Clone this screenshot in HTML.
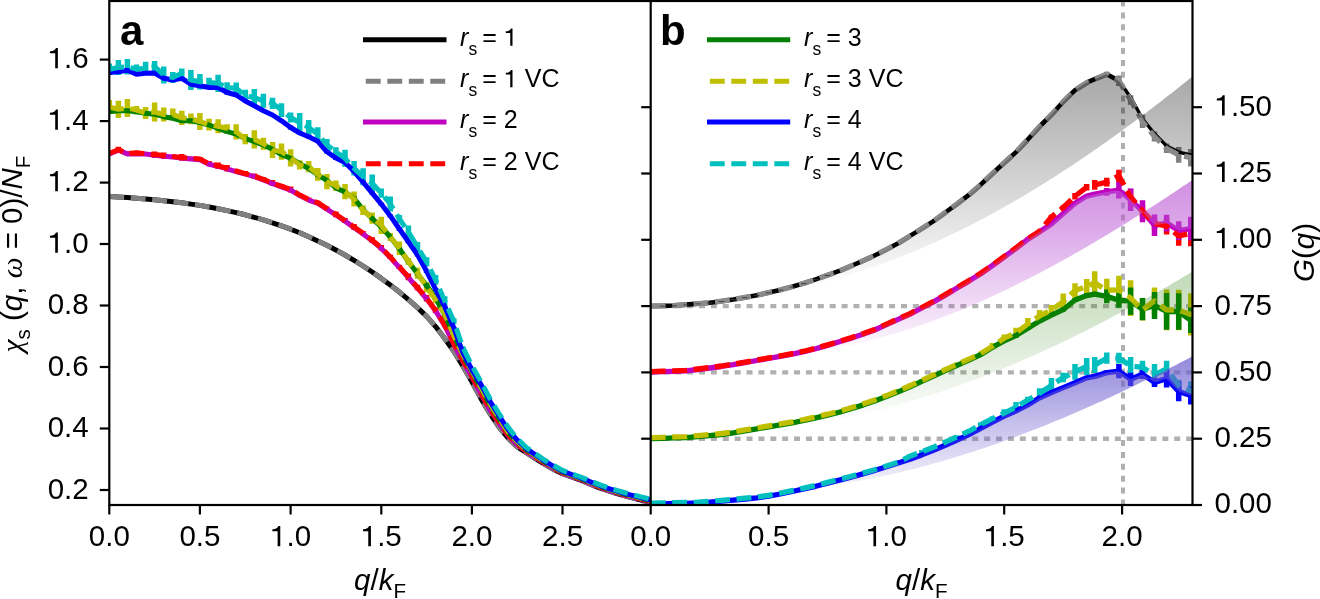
<!DOCTYPE html>
<html><head><meta charset="utf-8"><style>html,body{margin:0;padding:0;background:#fff;overflow:hidden} svg{display:block;will-change:transform}</style></head>
<body>
<svg width="1320" height="599" viewBox="0 0 1320 599" font-family="Liberation Sans, sans-serif">
<defs>
<clipPath id="ca"><rect x="109.3" y="1.0" width="541.4000000000001" height="504.0"/></clipPath>
<clipPath id="cb"><rect x="650.7" y="1.0" width="541.8" height="504.0"/></clipPath>
<linearGradient id="gk" gradientUnits="userSpaceOnUse" x1="0" y1="73" x2="0" y2="290"><stop offset="0.000" stop-color="rgb(0,0,0)" stop-opacity="0.345"/><stop offset="1.000" stop-color="rgb(0,0,0)" stop-opacity="0.0"/></linearGradient>
<linearGradient id="gm" gradientUnits="userSpaceOnUse" x1="0" y1="180" x2="0" y2="352"><stop offset="0.000" stop-color="rgb(186,85,211)" stop-opacity="0.66"/><stop offset="0.291" stop-color="rgb(186,85,211)" stop-opacity="0.5"/><stop offset="0.581" stop-color="rgb(186,85,211)" stop-opacity="0.3"/><stop offset="0.872" stop-color="rgb(186,85,211)" stop-opacity="0.12"/><stop offset="1.000" stop-color="rgb(186,85,211)" stop-opacity="0.02"/></linearGradient>
<linearGradient id="gg" gradientUnits="userSpaceOnUse" x1="0" y1="272" x2="0" y2="415"><stop offset="0.000" stop-color="rgb(50,130,20)" stop-opacity="0.3"/><stop offset="0.336" stop-color="rgb(50,130,20)" stop-opacity="0.21"/><stop offset="0.685" stop-color="rgb(50,130,20)" stop-opacity="0.11"/><stop offset="1.000" stop-color="rgb(50,130,20)" stop-opacity="0.02"/></linearGradient>
<linearGradient id="gb" gradientUnits="userSpaceOnUse" x1="0" y1="356" x2="0" y2="495"><stop offset="0.000" stop-color="rgb(106,90,205)" stop-opacity="0.72"/><stop offset="0.317" stop-color="rgb(106,90,205)" stop-opacity="0.5"/><stop offset="0.604" stop-color="rgb(106,90,205)" stop-opacity="0.3"/><stop offset="0.892" stop-color="rgb(106,90,205)" stop-opacity="0.1"/><stop offset="1.000" stop-color="rgb(106,90,205)" stop-opacity="0.02"/></linearGradient>
</defs>
<rect width="1320" height="599" fill="#fff"/>
<g clip-path="url(#ca)" fill="none" stroke-linejoin="round">
<path d="M109.3,151.4V155.2M118.4,146.7V152.6M127.4,151.2V155.4M136.5,150.5V155.7M145.6,151.9V155.2M154.6,151.4V157.8M163.7,152.4V158.8M172.8,154.8V158.2M181.8,154.1V160.7M190.9,156.4V160.1M199.9,157.0V161.2M209.0,160.9V166.2M218.1,162.6V169.1M227.1,165.1V171.4M236.2,169.3V172.6M245.3,171.0V176.1M254.3,173.5V178.6M263.4,176.9V181.8M272.5,180.0V185.9M281.5,184.3V188.1M290.6,186.6V192.5M299.7,193.2V196.6M308.7,197.6V201.3M317.8,200.8V204.5M326.9,206.4V210.8M335.9,211.6V217.2M345.0,218.1V223.0M354.1,223.9V230.0M363.1,231.1V235.4M372.2,237.3V243.1M381.3,244.9V250.6M390.3,254.7V259.1M399.4,264.7V269.1M408.4,273.6V280.3M417.5,284.7V290.2M426.6,294.9V301.4M435.6,307.3V313.2M444.7,322.7V327.3M453.8,342.4V344.7M462.8,359.6V360.8" stroke="#ff0000" stroke-width="5.5" fill="none"/>
<path d="M109.3,153.0V154.8M118.4,149.5V151.1M127.4,152.7V155.0M136.5,152.3V155.1M145.6,153.0V155.2M154.6,154.0V156.4M163.7,155.4V157.0M172.8,155.9V158.3M181.8,156.4V159.6M190.9,157.4V160.4M199.9,158.3V161.1M209.0,163.3V165.0M218.1,164.9V168.0M227.1,167.3V170.3M236.2,170.6V172.5M245.3,172.9V175.5M254.3,175.9V177.5M263.4,179.1V180.8M272.5,182.5V184.6M281.5,185.9V187.7M290.6,188.7V191.6M299.7,194.0V197.0M308.7,199.0V201.1M317.8,202.2V204.3M326.9,208.3V210.1M335.9,214.2V215.9M345.0,219.8V222.5M354.1,226.3V228.9M363.1,233.0V234.7M372.2,239.6V242.0M381.3,247.2V249.5M390.3,256.0V258.9M399.4,266.1V268.9M408.4,276.3V278.8M417.5,286.8V289.3M426.6,297.2V300.3M435.6,309.3V312.5M444.7,324.8V326.4" stroke="#bf00bf" stroke-width="5.5" fill="none"/>
<path d="M109.3,100.0V114.1M118.4,100.8V117.9M127.4,98.9V117.0M136.5,106.0V114.4M145.6,107.1V118.9M154.6,102.6V121.5M163.7,107.6V121.5M172.8,108.4V120.2M181.8,110.7V124.9M190.9,113.6V124.3M199.9,113.0V130.0M209.0,118.7V130.6M218.1,119.2V133.3M227.1,124.2V132.4M236.2,124.2V139.6M245.3,133.9V144.2M254.3,130.2V148.4M263.4,137.7V149.7M272.5,142.0V158.1M281.5,143.5V159.7M290.6,149.2V166.4M299.7,160.3V169.5M308.7,161.0V172.2M317.8,167.9V180.8M326.9,174.1V189.2M335.9,180.5V191.1M345.0,184.0V199.3M354.1,191.6V206.4M363.1,205.4V215.1M372.2,212.5V223.7M381.3,216.8V233.9M390.3,232.9V240.9M399.4,241.4V254.9M408.4,258.0V264.7M417.5,267.5V278.7M426.6,281.9V292.2M435.6,296.1V303.3M444.7,309.0V318.6M453.8,332.8V338.5M462.8,353.5V355.8" stroke="#bfbf00" stroke-width="5.5" fill="none"/>
<path d="M109.3,109.9V113.5M118.4,109.6V112.0M127.4,109.0V112.6M136.5,109.7V113.7M145.6,111.3V115.3M154.6,112.8V115.7M163.7,115.1V118.3M172.8,116.5V120.1M181.8,119.2V122.4M190.9,119.1V122.5M199.9,121.5V123.5M209.0,123.7V126.3M218.1,127.3V129.4M227.1,129.8V133.6M236.2,132.8V135.6M245.3,136.8V140.2M254.3,140.5V143.0M263.4,143.7V146.3M272.5,148.2V150.2M281.5,153.3V156.0M290.6,156.3V160.2M299.7,162.5V164.9M308.7,167.2V169.8M317.8,172.9V176.7M326.9,179.4V181.4M335.9,186.9V189.0M345.0,190.4V193.6M354.1,196.4V200.2M363.1,208.8V210.8M372.2,216.7V220.2M381.3,225.0V228.6M390.3,236.0V238.1M399.4,247.0V250.3M408.4,260.0V263.0M417.5,272.2V275.2M426.6,283.6V287.5M435.6,297.5V299.5M444.7,313.7V315.6M453.8,334.5V336.2" stroke="#008000" stroke-width="5.5" fill="none"/>
<path d="M109.3,63.4V75.0M118.4,59.9V75.1M127.4,58.9V74.5M136.5,64.5V73.9M145.6,61.7V74.9M154.6,60.9V72.5M163.7,66.5V83.5M172.8,72.1V82.9M181.8,68.5V78.1M190.9,70.0V89.9M199.9,74.0V89.4M209.0,77.7V87.3M218.1,74.7V91.9M227.1,82.2V92.8M236.2,82.5V94.1M245.3,89.7V101.8M254.3,89.1V105.9M263.4,93.8V107.8M272.5,97.7V108.9M281.5,103.2V116.9M290.6,112.5V122.5M299.7,112.9V132.0M308.7,120.0V135.0M317.8,127.2V141.2M326.9,138.9V151.0M335.9,147.2V156.2M345.0,149.8V166.8M354.1,161.1V175.6M363.1,168.2V185.3M372.2,174.6V191.9M381.3,188.6V197.8M390.3,196.6V211.4M399.4,215.0V222.9M408.4,225.4V238.5M417.5,242.0V252.0M426.6,257.3V266.6M435.6,274.9V284.8M444.7,296.2V305.3M453.8,318.2V323.9M462.8,346.3V348.4" stroke="#00bfbf" stroke-width="5.5" fill="none"/>
<path d="M109.3,70.6V74.4M118.4,70.5V72.9M127.4,69.3V71.3M136.5,72.8V75.6M145.6,72.0V74.6M154.6,71.5V74.5M163.7,77.0V79.6M172.8,78.7V81.3M181.8,77.2V79.4M190.9,83.0V85.4M199.9,83.9V87.7M209.0,86.2V88.8M218.1,85.8V89.3M227.1,90.6V94.4M236.2,93.2V96.8M245.3,99.8V102.2M254.3,104.7V107.0M263.4,109.8V111.8M272.5,114.0V116.0M281.5,119.6V122.0M290.6,125.5V129.5M299.7,131.6V134.3M308.7,135.0V138.6M317.8,139.8V142.8M326.9,150.2V153.3M335.9,156.0V160.0M345.0,161.4V163.6M354.1,170.1V173.0M363.1,181.1V183.3M372.2,191.5V194.6M381.3,202.8V205.4M390.3,214.4V217.4M399.4,227.3V230.7M408.4,240.5V243.2M417.5,253.2V256.5M426.6,269.6V272.9M435.6,287.9V290.7M444.7,305.4V307.5M453.8,327.1V328.5" stroke="#0000ff" stroke-width="5.5" fill="none"/>
<polyline points="109.3,196.5 118.4,197.0 127.4,197.6 136.5,198.2 145.6,199.0 154.6,199.8 163.7,200.7 172.8,201.7 181.8,202.8 190.9,204.1 199.9,205.4 209.0,207.0 218.1,208.7 227.1,210.6 236.2,212.6 245.3,214.8 254.3,217.3 263.4,219.9 272.5,222.8 281.5,225.9 290.6,229.2 299.7,232.8 308.7,236.7 317.8,240.9 326.9,245.3 335.9,250.0 345.0,255.0 354.1,260.4 363.1,266.0 372.2,272.0 381.3,278.4 390.3,285.1 399.4,292.1 408.4,299.6 417.5,307.6 426.6,316.4 435.6,326.6 444.7,338.5 453.8,351.3 462.8,366.0 471.9,381.7 481.0,398.6 490.0,413.7 499.1,427.2 508.2,438.2 517.2,446.9 526.3,452.7 535.4,458.7 544.4,464.1 553.5,469.3 562.5,473.7 571.6,476.9 580.7,480.2 589.7,483.9 598.8,487.6 607.9,490.7 616.9,493.6 626.0,496.2 635.1,498.5 644.1,500.8 650.7,502.4" stroke="#000000" stroke-width="5.0"/>
<polyline points="109.3,196.5 118.4,197.0 127.4,197.6 136.5,198.2 145.6,199.0 154.6,199.8 163.7,200.7 172.8,201.7 181.8,202.8 190.9,204.1 199.9,205.4 209.0,207.0 218.1,208.7 227.1,210.6 236.2,212.6 245.3,214.8 254.3,217.3 263.4,219.9 272.5,222.8 281.5,225.9 290.6,229.2 299.7,232.8 308.7,236.7 317.8,240.9 326.9,245.3 335.9,250.0 345.0,255.0 354.1,260.4 363.1,266.0 372.2,272.0 381.3,278.4 390.3,285.1 399.4,292.1 408.4,299.6 417.5,307.6 426.6,316.4 435.6,326.6 444.7,338.5 453.8,351.3 462.8,366.0 471.9,381.7 481.0,398.6 490.0,413.7 499.1,427.2 508.2,438.2 517.2,446.9 526.3,452.7 535.4,458.7 544.4,464.1 553.5,469.3 562.5,473.7 571.6,476.9 580.7,480.2 589.7,483.9 598.8,487.6 607.9,490.7 616.9,493.6 626.0,496.2 635.1,498.5 644.1,500.8 650.7,502.4" stroke="#808080" stroke-width="5.0" stroke-dasharray="14.9,6.6"/>
<polyline points="109.3,153.9 118.4,150.3 127.4,153.9 136.5,153.7 145.6,154.1 154.6,155.2 163.7,156.2 172.8,157.1 181.8,158.0 190.9,158.9 199.9,159.7 209.0,164.2 218.1,166.4 227.1,168.8 236.2,171.6 245.3,174.2 254.3,176.7 263.4,180.0 272.5,183.6 281.5,186.8 290.6,190.2 299.7,195.5 308.7,200.1 317.8,203.3 326.9,209.2 335.9,215.0 345.0,221.1 354.1,227.6 363.1,233.9 372.2,240.8 381.3,248.4 390.3,257.5 399.4,267.5 408.4,277.5 417.5,288.1 426.6,298.8 435.6,310.9 444.7,325.6 453.8,344.2 462.8,361.1 471.9,377.1 481.0,394.1 490.0,410.0 499.1,423.2 508.2,435.7 517.2,444.7 526.3,451.4 535.4,457.5 544.4,463.2 553.5,468.4 562.5,473.1 571.6,476.3 580.7,479.6 589.7,483.3 598.8,487.0 607.9,490.1 616.9,493.0 626.0,495.6 635.1,497.9 644.1,500.2 650.7,501.8" stroke="#bf00bf" stroke-width="5.0"/>
<polyline points="109.3,153.3 118.4,149.7 127.4,153.3 136.5,153.1 145.6,153.5 154.6,154.6 163.7,155.6 172.8,156.5 181.8,157.4 190.9,158.3 199.9,159.1 209.0,163.6 218.1,165.8 227.1,168.2 236.2,171.0 245.3,173.6 254.3,176.1 263.4,179.4 272.5,183.0 281.5,186.2 290.6,189.6 299.7,194.9 308.7,199.5 317.8,202.7 326.9,208.6 335.9,214.4 345.0,220.5 354.1,227.0 363.1,233.3 372.2,240.2 381.3,247.8 390.3,256.9 399.4,266.9 408.4,276.9 417.5,287.5 426.6,298.2 435.6,310.3 444.7,325.0 453.8,343.5 462.8,360.2 471.9,376.2 481.0,393.1 490.0,409.2 499.1,422.4 508.2,435.1 517.2,444.1 526.3,451.0 535.4,457.1 544.4,462.8 553.5,468.0 562.5,472.7 571.6,475.9 580.7,479.2 589.7,482.9 598.8,486.6 607.9,489.7 616.9,492.6 626.0,495.2 635.1,497.5 644.1,499.8 650.7,501.4" stroke="#ff0000" stroke-width="5.0" stroke-dasharray="14.9,6.6"/>
<polyline points="109.3,111.7 118.4,110.8 127.4,110.8 136.5,111.7 145.6,113.3 154.6,114.2 163.7,116.7 172.8,118.3 181.8,120.8 190.9,120.8 199.9,122.5 209.0,125.0 218.1,128.3 227.1,131.7 236.2,134.2 245.3,138.5 254.3,141.7 263.4,145.0 272.5,149.2 281.5,154.6 290.6,158.2 299.7,163.7 308.7,168.5 317.8,174.8 326.9,180.4 335.9,187.9 345.0,192.0 354.1,198.3 363.1,209.8 372.2,218.5 381.3,226.8 390.3,237.0 399.4,248.7 408.4,261.5 417.5,273.7 426.6,285.5 435.6,298.5 444.7,314.6 453.8,335.3 462.8,355.1 471.9,371.8 481.0,388.4 490.0,404.8 499.1,418.8 508.2,432.6 517.2,442.0 526.3,449.7 535.4,455.9 544.4,461.8 553.5,467.2 562.5,472.0 571.6,475.3 580.7,478.6 589.7,482.3 598.8,486.0 607.9,489.1 616.9,492.0 626.0,494.6 635.1,496.9 644.1,499.2 650.7,500.8" stroke="#008000" stroke-width="5.0"/>
<polyline points="109.3,107.0 118.4,109.3 127.4,107.9 136.5,110.2 145.6,113.0 154.6,112.1 163.7,114.5 172.8,114.3 181.8,117.8 190.9,118.9 199.9,121.5 209.0,124.7 218.1,126.2 227.1,128.3 236.2,131.9 245.3,139.0 254.3,139.3 263.4,143.7 272.5,150.1 281.5,151.6 290.6,157.8 299.7,164.9 308.7,166.6 317.8,174.4 326.9,181.6 335.9,185.8 345.0,191.7 354.1,199.0 363.1,210.3 372.2,218.1 381.3,225.4 390.3,236.9 399.4,248.1 408.4,261.4 417.5,273.1 426.6,287.0 435.6,299.7 444.7,313.8 453.8,335.7 462.8,354.7 471.9,370.9 481.0,387.5 490.0,403.9 499.1,418.1 508.2,432.1 517.2,441.5 526.3,449.4 535.4,455.6 544.4,461.5 553.5,466.9 562.5,471.7 571.6,475.0 580.7,478.3 589.7,482.0 598.8,485.7 607.9,488.8 616.9,491.7 626.0,494.3 635.1,496.6 644.1,498.9 650.7,500.5" stroke="#bfbf00" stroke-width="5.0" stroke-dasharray="14.9,6.6"/>
<polyline points="109.3,72.5 118.4,71.7 127.4,70.3 136.5,74.2 145.6,73.3 154.6,73.0 163.7,78.3 172.8,80.0 181.8,78.3 190.9,84.2 199.9,85.8 209.0,87.5 218.1,87.5 227.1,92.5 236.2,95.0 245.3,101.0 254.3,105.8 263.4,110.8 272.5,115.0 281.5,120.8 290.6,127.5 299.7,133.0 308.7,136.8 317.8,141.3 326.9,151.8 335.9,158.0 345.0,162.5 354.1,171.6 363.1,182.2 372.2,193.1 381.3,204.1 390.3,215.9 399.4,229.0 408.4,241.8 417.5,254.9 426.6,271.2 435.6,289.3 444.7,306.4 453.8,327.8 462.8,352.5 471.9,369.6 481.0,384.6 490.0,401.3 499.1,415.9 508.2,429.7 517.2,440.1 526.3,448.5 535.4,454.8 544.4,460.8 553.5,466.3 562.5,471.2 571.6,474.5 580.7,477.8 589.7,481.5 598.8,485.2 607.9,488.3 616.9,491.2 626.0,493.8 635.1,496.1 644.1,498.4 650.7,500.0" stroke="#0000ff" stroke-width="5.0"/>
<polyline points="109.3,69.2 118.4,67.5 127.4,66.7 136.5,69.2 145.6,68.3 154.6,66.7 163.7,75.0 172.8,77.5 181.8,73.3 190.9,80.0 199.9,81.7 209.0,82.5 218.1,83.3 227.1,87.5 236.2,88.3 245.3,95.8 254.3,97.5 263.4,100.8 272.5,103.3 281.5,110.0 290.6,117.5 299.7,122.5 308.7,127.5 317.8,134.2 326.9,145.0 335.9,151.7 345.0,158.3 354.1,168.4 363.1,176.7 372.2,183.3 381.3,193.2 390.3,204.0 399.4,219.0 408.4,231.9 417.5,247.0 426.6,262.0 435.6,279.9 444.7,300.8 453.8,321.0 462.8,347.4 471.9,365.5 481.0,381.8 490.0,398.7 499.1,413.7 508.2,427.4 517.2,438.7 526.3,447.5 535.4,453.8 544.4,460.0 553.5,465.4 562.5,470.4 571.6,473.7 580.7,477.0 589.7,480.7 598.8,484.4 607.9,487.5 616.9,490.4 626.0,493.0 635.1,495.3 644.1,497.6 650.7,499.2" stroke="#00bfbf" stroke-width="5.0" stroke-dasharray="14.9,6.6"/>
</g>
<g clip-path="url(#cb)" fill="none" stroke-linejoin="round">
<line x1="650.7" y1="306.1" x2="1192.5" y2="306.1" stroke="#b0b0b0" stroke-width="4.4" stroke-dasharray="6.0,5.88" stroke-dashoffset="-0.8"/>
<line x1="650.7" y1="372.4" x2="1192.5" y2="372.4" stroke="#b0b0b0" stroke-width="4.4" stroke-dasharray="6.0,5.88" stroke-dashoffset="-0.8"/>
<line x1="650.7" y1="438.7" x2="1192.5" y2="438.7" stroke="#b0b0b0" stroke-width="4.4" stroke-dasharray="6.0,5.88" stroke-dashoffset="-0.8"/>
<line x1="1123.0" y1="505.5" x2="1123.0" y2="1.0" stroke="#b0b0b0" stroke-width="4.0" stroke-dasharray="6.0,5.88"/>
<path d="M1106.8,71.7V76.7M1118.9,75.5V86.0M1130.6,95.2V104.8M1142.5,114.6V128.0M1154.5,131.5V141.5M1166.6,143.5V153.1M1178.7,146.9V162.7M1190.8,148.9V166.4M1203.0,152.8V163.2" stroke="#808080" stroke-width="5.5" fill="none"/>
<path d="M874.6,328.7V330.3M886.4,323.4V324.9M910.0,312.9V314.4M921.8,306.7V308.3M933.5,300.4V302.4M945.3,293.6V295.6M957.1,286.4V288.6M968.9,279.6V281.5M980.7,272.2V274.1M992.5,264.3V265.7M1004.2,255.6V257.4M1016.0,246.6V248.9M1027.8,237.5V240.0M1039.6,229.8V232.7M1051.4,214.8V219.1M1063.2,205.3V209.7M1075.0,193.0V199.5M1086.7,184.0V190.5M1094.7,180.1V189.8M1106.8,177.8V186.4M1118.9,169.7V182.1M1130.6,188.7V204.8M1142.5,205.1V216.9M1154.5,217.3V229.6M1166.6,217.7V234.5M1178.7,226.1V245.7M1190.8,220.4V246.3M1203.0,223.6V242.4" stroke="#ff0000" stroke-width="5.5" fill="none"/>
<path d="M886.4,324.0V325.3M898.2,318.8V320.0M933.5,301.1V302.7M957.1,287.4V288.6M968.9,280.4V281.7M980.7,272.7V274.6M992.5,264.8V266.2M1004.2,256.0V258.0M1016.0,247.3V249.2M1027.8,238.6V239.9M1039.6,230.8V232.7M1051.4,223.3V224.6M1063.2,212.9V214.2M1075.0,202.0V204.4M1086.7,195.1V197.0M1094.7,193.4V195.0M1106.8,187.9V195.8M1118.9,181.8V198.6M1130.6,188.6V210.9M1142.5,200.3V222.2M1154.5,214.5V236.1M1166.6,214.7V231.5M1178.7,221.3V239.9M1190.8,216.7V240.6M1203.0,217.3V239.5" stroke="#bf00bf" stroke-width="5.5" fill="none"/>
<path d="M745.0,429.3V430.6M780.3,423.1V424.7M792.1,421.1V422.5M803.9,418.4V420.6M815.7,416.0V417.6M827.5,413.3V415.1M839.3,409.8V412.8M851.0,406.2V409.3M862.8,402.8V405.5M874.6,398.6V401.3M886.4,394.0V397.1M898.2,389.3V392.4M910.0,383.5V387.8M921.8,379.1V381.6M933.5,372.8V377.3M945.3,367.8V371.7M957.1,362.2V366.5M968.9,357.4V360.7M980.7,351.6V355.8M992.5,343.1V349.4M1004.2,334.5V341.9M1016.0,327.7V338.0M1027.8,318.1V329.9M1039.6,310.1V321.9M1051.4,304.9V315.2M1063.2,293.4V309.9M1075.0,283.2V297.8M1086.7,279.1V293.8M1094.7,271.3V294.1M1106.8,278.8V301.7M1118.9,275.7V304.1M1130.6,280.3V315.9M1142.5,299.5V320.4M1154.5,287.5V314.3M1166.6,289.6V330.2M1178.7,289.8V330.2M1190.8,293.2V335.6M1203.0,304.0V326.0" stroke="#bfbf00" stroke-width="5.5" fill="none"/>
<path d="M792.1,422.2V423.4M803.9,419.7V421.2M827.5,414.4V416.0M839.3,411.5V413.0M851.0,407.7V409.8M862.8,404.3V406.0M874.6,399.7V402.2M886.4,395.5V397.6M898.2,390.7V393.0M910.0,385.6V387.7M921.8,379.7V383.0M933.5,374.8V377.3M945.3,369.4V372.1M957.1,364.4V366.3M968.9,358.4V361.7M980.7,353.3V356.1M992.5,345.8V348.7M1004.2,339.6V342.3M1016.0,333.5V337.6M1027.8,326.4V330.1M1039.6,319.4V322.8M1051.4,313.7V316.7M1063.2,307.8V311.6M1075.0,298.0V301.9M1086.7,293.3V297.9M1094.7,291.7V296.5M1106.8,289.6V303.2M1118.9,292.7V307.7M1130.6,287.5V314.7M1142.5,298.0V320.3M1154.5,291.9V319.1M1166.6,293.1V329.8M1178.7,293.2V329.8M1190.8,307.5V333.0M1203.0,306.4V336.6" stroke="#008000" stroke-width="5.5" fill="none"/>
<path d="M733.2,498.7V499.9M745.0,497.4V499.0M756.8,496.2V497.9M780.3,492.2V494.2M792.1,490.0V491.4M803.9,487.5V488.8M815.7,484.1V486.8M827.5,481.0V483.8M839.3,478.4V480.3M851.0,475.5V477.3M862.8,471.9V474.3M874.6,468.3V471.0M886.4,464.7V467.2M898.2,460.8V463.7M910.0,454.3V458.2M921.8,450.1V453.5M933.5,445.1V449.3M945.3,439.8V444.6M957.1,435.2V438.5M968.9,429.8V432.5M980.7,422.3V427.0M992.5,416.5V420.6M1004.2,409.3V417.0M1016.0,402.0V412.5M1027.8,396.8V403.4M1039.6,388.2V398.4M1051.4,378.1V393.0M1063.2,372.7V382.3M1075.0,364.0V379.8M1086.7,358.1V374.9M1094.7,356.9V373.1M1106.8,352.6V363.8M1118.9,352.8V363.6M1130.6,357.0V374.7M1142.5,360.8V374.0M1154.5,364.1V385.5M1166.6,360.7V377.0M1178.7,379.8V390.9M1190.8,381.6V399.9M1203.0,382.8V400.2" stroke="#00bfbf" stroke-width="5.5" fill="none"/>
<path d="M910.0,458.6V460.0M945.3,444.5V446.0M968.9,433.9V435.4M980.7,427.8V429.2M992.5,421.4V422.9M1004.2,415.5V416.8M1016.0,410.0V411.9M1027.8,403.9V406.0M1039.6,396.6V398.8M1051.4,391.5V393.6M1063.2,386.7V388.5M1075.0,381.7V383.6M1086.7,376.8V378.9M1094.7,375.7V377.1M1106.8,370.6V374.6M1118.9,364.0V378.2M1130.6,372.7V385.9M1142.5,369.5V378.9M1154.5,377.8V387.0M1166.6,369.7V387.6M1178.7,381.6V401.2M1190.8,386.4V404.6M1203.0,388.7V403.5" stroke="#0000ff" stroke-width="5.5" fill="none"/>
<polyline points="650.7,306.0 662.5,305.9 674.3,305.5 686.1,304.6 697.8,303.6 709.6,302.7 721.4,301.2 733.2,299.5 745.0,297.4 756.8,295.2 768.6,292.6 780.3,289.9 792.1,286.8 803.9,283.3 815.7,279.4 827.5,275.2 839.3,270.9 851.0,266.0 862.8,260.9 874.6,255.5 886.4,249.5 898.2,243.2 910.0,235.9 921.8,228.6 933.5,221.1 945.3,212.5 957.1,203.8 968.9,194.9 980.7,184.7 992.5,173.5 1004.2,162.7 1016.0,152.1 1027.8,139.5 1039.6,126.5 1051.4,114.7 1063.2,101.7 1075.0,90.1 1086.7,82.7 1094.7,79.2 1106.8,74.2 1118.9,80.7" stroke="#000000" stroke-width="4.6"/>
<polyline points="1118.9,80.7 1130.6,97.2 1142.5,118.7 1154.5,133.7 1166.6,145.9 1178.7,152.1 1190.8,155.0 1203.0,155.4" stroke="#000000" stroke-width="3.4"/>
<polyline points="650.7,306.0 662.5,305.9 674.3,305.5 686.1,304.6 697.8,303.6 709.6,302.7 721.4,301.2 733.2,299.5 745.0,297.4 756.8,295.2 768.6,292.6 780.3,289.9 792.1,286.8 803.9,283.3 815.7,279.4 827.5,275.2 839.3,270.9 851.0,266.0 862.8,260.9 874.6,255.5 886.4,249.5 898.2,243.2 910.0,235.9 921.8,228.6 933.5,221.1 945.3,212.5 957.1,203.8 968.9,194.9 980.7,184.7 992.5,173.5 1004.2,162.7 1016.0,152.1 1027.8,139.5 1039.6,126.5 1051.4,114.7 1063.2,101.7 1075.0,90.1 1086.7,82.7 1094.7,79.2 1106.8,74.2 1118.9,80.7 1130.6,100.0 1142.5,121.3 1154.5,136.5 1166.6,148.3 1178.7,154.8 1190.8,157.7 1203.0,158.0" stroke="#8a8a8a" stroke-width="5.3" stroke-dasharray="14.9,6.6"/>
<polyline points="650.7,372.2 662.5,371.7 674.3,371.3 686.1,370.8 697.8,369.5 709.6,368.0 721.4,366.5 733.2,364.7 745.0,362.6 756.8,360.5 768.6,358.4 780.3,356.3 792.1,354.1 803.9,351.7 815.7,348.8 827.5,345.4 839.3,341.8 851.0,338.2 862.8,334.3 874.6,330.0 886.4,324.6 898.2,319.4 910.0,314.1 921.8,308.0 933.5,301.9 945.3,295.1 957.1,288.0 968.9,281.1 980.7,273.7 992.5,265.5 1004.2,257.0 1016.0,248.3 1027.8,239.3 1039.6,231.7 1051.4,224.0 1063.2,213.6 1075.0,203.2 1086.7,196.1 1094.7,194.2 1106.8,191.8 1118.9,190.2 1130.6,199.8 1142.5,211.2 1154.5,225.3 1166.6,223.1 1178.7,230.6 1190.8,228.7 1203.0,228.4" stroke="#bf00bf" stroke-width="5.3"/>
<polyline points="650.7,371.7 662.5,371.2 674.3,370.8 686.1,370.3 697.8,369.0 709.6,367.5 721.4,366.0 733.2,364.2 745.0,362.1 756.8,360.0 768.6,357.9 780.3,355.8 792.1,353.6 803.9,351.2 815.7,348.3 827.5,344.9 839.3,341.3 851.0,337.7 862.8,333.8 874.6,329.5 886.4,324.1 898.2,318.9 910.0,313.6 921.8,307.5 933.5,301.4 945.3,294.6 957.1,287.5 968.9,280.6 980.7,273.2 992.5,265.0 1004.2,256.5 1016.0,247.8 1027.8,238.8 1039.6,231.2 1051.4,217.0 1063.2,207.5 1075.0,196.2 1086.7,187.2 1094.7,185.0 1106.8,182.1 1118.9,175.9 1130.6,196.7 1142.5,211.0 1154.5,223.4 1166.6,226.1 1178.7,235.9 1190.8,233.4 1203.0,233.0" stroke="#ff0000" stroke-width="5.3" stroke-dasharray="14.9,6.6"/>
<polyline points="650.7,438.7 662.5,438.3 674.3,437.9 686.1,437.6 697.8,436.6 709.6,435.6 721.4,434.5 733.2,432.9 745.0,430.9 756.8,428.9 768.6,426.9 780.3,424.9 792.1,422.8 803.9,420.5 815.7,417.8 827.5,415.2 839.3,412.3 851.0,408.8 862.8,405.1 874.6,401.0 886.4,396.6 898.2,391.9 910.0,386.7 921.8,381.4 933.5,376.1 945.3,370.7 957.1,365.4 968.9,360.1 980.7,354.7 992.5,347.3 1004.2,340.9 1016.0,335.6 1027.8,328.2 1039.6,321.1 1051.4,315.2 1063.2,309.7 1075.0,300.0 1086.7,295.6 1094.7,294.1 1106.8,296.4 1118.9,300.2 1130.6,301.1 1142.5,309.2 1154.5,305.5 1166.6,311.5 1178.7,311.5 1190.8,320.3 1203.0,321.5" stroke="#008000" stroke-width="5.3"/>
<polyline points="650.7,437.7 662.5,437.3 674.3,436.9 686.1,436.6 697.8,435.6 709.6,434.6 721.4,433.5 733.2,431.9 745.0,429.9 756.8,427.9 768.6,425.9 780.3,423.9 792.1,421.8 803.9,419.5 815.7,416.8 827.5,414.2 839.3,411.3 851.0,407.8 862.8,404.1 874.6,400.0 886.4,395.6 898.2,390.9 910.0,385.7 921.8,380.4 933.5,375.1 945.3,369.7 957.1,364.4 968.9,359.1 980.7,353.7 992.5,346.3 1004.2,338.2 1016.0,332.8 1027.8,324.0 1039.6,316.0 1051.4,310.1 1063.2,301.6 1075.0,290.5 1086.7,286.5 1094.7,282.7 1106.8,290.2 1118.9,289.9 1130.6,298.1 1142.5,309.9 1154.5,300.9 1166.6,309.9 1178.7,310.0 1190.8,314.4 1203.0,315.0" stroke="#bfbf00" stroke-width="5.3" stroke-dasharray="14.9,6.6"/>
<polyline points="650.7,504.0 662.5,503.8 674.3,503.5 686.1,503.3 697.8,503.0 709.6,502.2 721.4,501.1 733.2,500.1 745.0,499.0 756.8,497.8 768.6,496.1 780.3,494.0 792.1,491.5 803.9,488.9 815.7,486.3 827.5,483.2 839.3,480.1 851.0,477.2 862.8,473.9 874.6,470.5 886.4,466.8 898.2,463.0 910.0,459.3 921.8,454.9 933.5,450.2 945.3,445.2 957.1,440.0 968.9,434.7 980.7,428.5 992.5,422.2 1004.2,416.1 1016.0,411.0 1027.8,404.9 1039.6,397.7 1051.4,392.5 1063.2,387.6 1075.0,382.7 1086.7,377.8 1094.7,376.4 1106.8,372.6 1118.9,371.1 1130.6,379.3 1142.5,374.2 1154.5,382.4 1166.6,378.6 1178.7,391.4 1190.8,395.5 1203.0,396.1" stroke="#0000ff" stroke-width="5.3"/>
<polyline points="650.7,503.2 662.5,503.0 674.3,502.7 686.1,502.5 697.8,502.2 709.6,501.4 721.4,500.3 733.2,499.3 745.0,498.2 756.8,497.0 768.6,495.3 780.3,493.2 792.1,490.7 803.9,488.1 815.7,485.5 827.5,482.4 839.3,479.3 851.0,476.4 862.8,473.1 874.6,469.7 886.4,466.0 898.2,462.2 910.0,456.2 921.8,451.8 933.5,447.2 945.3,442.2 957.1,436.8 968.9,431.2 980.7,424.7 992.5,418.6 1004.2,413.1 1016.0,407.2 1027.8,400.1 1039.6,393.3 1051.4,385.5 1063.2,377.5 1075.0,371.9 1086.7,366.5 1094.7,365.0 1106.8,358.2 1118.9,358.2 1130.6,365.8 1142.5,367.4 1154.5,374.8 1166.6,368.8 1178.7,385.4 1190.8,390.8 1203.0,391.5" stroke="#00bfbf" stroke-width="5.3" stroke-dasharray="14.9,6.6"/>
<path d="M659.7,306.2h5.5M671.5,305.8h5.5M683.3,304.9h5.5M695.1,303.9h5.5M706.9,303.0h5.5M718.7,301.5h5.5M730.4,299.8h5.5M742.2,297.7h5.5M754.0,295.5h5.5M765.8,292.9h5.5M777.6,290.2h5.5M789.4,287.1h5.5M801.2,283.6h5.5M812.9,279.7h5.5M824.7,275.5h5.5" stroke="#3a3a3a" stroke-width="0.9" fill="none"/>
<polygon points="800.0,284.4 802.6,283.6 805.3,282.8 807.9,281.9 810.6,281.1 813.2,280.2 815.8,279.4 818.5,278.4 821.1,277.5 823.8,276.5 826.4,275.6 829.1,274.6 831.7,273.7 834.3,272.7 837.0,271.7 839.6,270.7 842.3,269.6 844.9,268.5 847.5,267.4 850.2,266.3 852.8,265.2 855.5,264.1 858.1,262.9 860.7,261.8 863.4,260.6 866.0,259.4 868.7,258.2 871.3,257.0 873.9,255.8 876.6,254.5 879.2,253.2 881.9,251.8 884.5,250.5 887.2,249.1 889.8,247.7 892.4,246.3 895.1,244.9 897.7,243.5 900.4,241.9 903.0,240.3 905.6,238.6 908.3,237.0 910.9,235.4 913.6,233.7 916.2,232.0 918.8,230.4 921.5,228.7 924.1,227.1 926.8,225.4 929.4,223.7 932.0,222.0 934.7,220.3 937.3,218.3 940.0,216.4 942.6,214.5 945.3,212.6 947.9,210.6 950.5,208.7 953.2,206.7 955.8,204.8 958.5,202.8 961.1,200.8 963.7,198.8 966.4,196.8 969.0,194.8 971.7,192.5 974.3,190.2 976.9,188.0 979.6,185.7 982.2,183.3 984.9,180.7 987.5,178.2 990.1,175.7 992.8,173.2 995.4,170.8 998.1,168.4 1000.7,166.0 1003.4,163.5 1006.0,161.1 1008.6,158.7 1011.3,156.4 1013.9,154.0 1016.6,151.5 1019.2,148.7 1021.8,145.9 1024.5,143.1 1027.1,140.2 1029.8,137.4 1032.4,134.5 1035.0,131.6 1037.7,128.6 1040.3,125.8 1043.0,123.2 1045.6,120.5 1048.2,117.8 1050.9,115.2 1053.5,112.3 1056.2,109.4 1058.8,106.5 1061.5,103.6 1064.1,100.8 1066.7,98.2 1069.4,95.6 1072.0,93.0 1074.7,90.4 1077.3,88.6 1079.9,87.0 1082.6,85.3 1085.2,83.6 1087.9,82.2 1090.5,81.0 1093.1,79.9 1095.8,78.7 1098.4,77.6 1101.1,76.5 1103.7,75.5 1106.3,74.4 1109.0,75.4 1111.6,76.8 1114.3,78.2 1116.9,79.7 1119.6,81.7 1122.2,85.4 1124.8,89.1 1127.5,92.8 1130.1,96.6 1132.8,101.1 1135.4,105.9 1138.0,110.6 1140.7,115.4 1143.3,119.7 1146.0,123.0 1148.6,126.3 1151.2,129.6 1153.9,133.0 1156.5,135.8 1159.2,138.4 1161.8,141.1 1164.4,143.7 1167.1,146.1 1169.7,147.5 1172.4,148.8 1175.0,150.2 1177.7,151.5 1180.3,152.4 1182.9,153.1 1185.6,153.7 1188.2,154.4 1190.9,155.0 1193.5,155.1 1193.5,75.5 1190.9,77.7 1188.2,79.8 1185.6,81.9 1182.9,84.0 1180.3,86.2 1177.7,88.3 1175.0,90.4 1172.4,92.4 1169.7,94.5 1167.1,96.6 1164.4,98.6 1161.8,100.7 1159.2,102.7 1156.5,104.8 1153.9,106.8 1151.2,108.8 1148.6,110.8 1146.0,112.9 1143.3,114.8 1140.7,116.8 1138.0,118.8 1135.4,120.8 1132.8,122.7 1130.1,124.7 1127.5,126.6 1124.8,128.6 1122.2,130.5 1119.6,132.4 1116.9,134.3 1114.3,136.2 1111.6,138.1 1109.0,140.0 1106.3,141.9 1103.7,143.8 1101.1,145.6 1098.4,147.5 1095.8,149.3 1093.1,151.1 1090.5,152.9 1087.9,154.8 1085.2,156.6 1082.6,158.3 1079.9,160.1 1077.3,161.9 1074.7,163.7 1072.0,165.4 1069.4,167.2 1066.7,168.9 1064.1,170.6 1061.5,172.3 1058.8,174.0 1056.2,175.7 1053.5,177.4 1050.9,179.1 1048.2,180.8 1045.6,182.4 1043.0,184.1 1040.3,185.7 1037.7,187.3 1035.0,188.9 1032.4,190.6 1029.8,192.1 1027.1,193.7 1024.5,195.3 1021.8,196.9 1019.2,198.4 1016.6,200.0 1013.9,201.5 1011.3,203.0 1008.6,204.5 1006.0,206.0 1003.4,207.5 1000.7,209.0 998.1,210.5 995.4,211.9 992.8,213.4 990.1,214.8 987.5,216.3 984.9,217.7 982.2,219.1 979.6,220.5 976.9,221.9 974.3,223.2 971.7,224.6 969.0,225.9 966.4,227.3 963.7,228.6 961.1,229.9 958.5,231.2 955.8,232.5 953.2,233.8 950.5,235.1 947.9,236.3 945.3,237.6 942.6,238.8 940.0,240.0 937.3,241.2 934.7,242.4 932.0,243.6 929.4,244.8 926.8,246.0 924.1,247.1 921.5,248.3 918.8,249.4 916.2,250.5 913.6,251.6 910.9,252.7 908.3,253.8 905.6,254.8 903.0,255.9 900.4,256.9 897.7,258.0 895.1,259.0 892.4,260.0 889.8,261.0 887.2,262.0 884.5,262.9 881.9,263.9 879.2,264.8 876.6,265.8 873.9,266.7 871.3,267.6 868.7,268.5 866.0,269.4 863.4,270.2 860.7,271.1 858.1,271.9 855.5,272.7 852.8,273.6 850.2,274.4 847.5,275.1 844.9,275.9 842.3,276.7 839.6,277.4 837.0,278.2 834.3,278.9 831.7,279.6 829.1,280.3 826.4,281.0 823.8,281.6 821.1,282.3 818.5,282.9 815.8,283.6 813.2,284.2 810.6,284.8 807.9,285.4 805.3,285.9 802.6,286.5 800.0,287.0" fill="url(#gk)"/>
<polygon points="815.0,348.9 817.5,348.2 820.1,347.5 822.6,346.8 825.2,346.0 827.7,345.3 830.2,344.5 832.8,343.8 835.3,343.0 837.9,342.2 840.4,341.5 842.9,340.7 845.5,339.9 848.0,339.2 850.6,338.4 853.1,337.5 855.6,336.7 858.2,335.8 860.7,335.0 863.3,334.1 865.8,333.2 868.3,332.3 870.9,331.3 873.4,330.4 876.0,329.4 878.5,328.2 881.0,327.1 883.6,325.9 886.1,324.8 888.7,323.6 891.2,322.5 893.7,321.3 896.3,320.2 898.8,319.1 901.4,317.9 903.9,316.8 906.4,315.7 909.0,314.5 911.5,313.3 914.1,312.0 916.6,310.7 919.2,309.4 921.7,308.1 924.2,306.7 926.8,305.4 929.3,304.1 931.9,302.8 934.4,301.4 936.9,299.9 939.5,298.5 942.0,297.0 944.6,295.5 947.1,294.0 949.6,292.5 952.2,291.0 954.7,289.4 957.3,287.9 959.8,286.4 962.3,284.9 964.9,283.4 967.4,281.9 970.0,280.4 972.5,278.8 975.0,277.2 977.6,275.6 980.1,274.0 982.7,272.3 985.2,270.5 987.7,268.8 990.3,267.0 992.8,265.2 995.4,263.4 997.9,261.6 1000.4,259.8 1003.0,257.9 1005.5,256.1 1008.1,254.2 1010.6,252.3 1013.1,250.4 1015.7,248.5 1018.2,246.6 1020.8,244.6 1023.3,242.7 1025.8,240.8 1028.4,238.9 1030.9,237.3 1033.5,235.7 1036.0,234.0 1038.5,232.4 1041.1,230.8 1043.6,229.1 1046.2,227.4 1048.7,225.7 1051.2,224.0 1053.8,221.8 1056.3,219.6 1058.9,217.4 1061.4,215.1 1063.9,212.9 1066.5,210.7 1069.0,208.4 1071.6,206.2 1074.1,204.0 1076.6,202.2 1079.2,200.7 1081.7,199.1 1084.3,197.6 1086.8,196.1 1089.3,195.5 1091.9,194.9 1094.4,194.3 1097.0,193.8 1099.5,193.3 1102.1,192.8 1104.6,192.3 1107.1,191.8 1109.7,191.4 1112.2,191.1 1114.8,190.8 1117.3,190.4 1119.8,190.9 1122.4,193.0 1124.9,195.1 1127.5,197.2 1130.0,199.3 1132.5,201.7 1135.1,204.1 1137.6,206.5 1140.2,209.0 1142.7,211.5 1145.2,214.4 1147.8,217.4 1150.3,220.4 1152.9,223.4 1155.4,225.1 1157.9,224.7 1160.5,224.2 1163.0,223.7 1165.6,223.3 1168.1,224.0 1170.6,225.6 1173.2,227.2 1175.7,228.8 1178.3,230.3 1180.8,230.3 1183.3,229.9 1185.9,229.5 1188.4,229.1 1191.0,228.7 1193.5,228.6 1193.5,179.3 1191.0,181.0 1188.4,182.7 1185.9,184.4 1183.3,186.1 1180.8,187.8 1178.3,189.5 1175.7,191.2 1173.2,192.9 1170.6,194.6 1168.1,196.2 1165.6,197.9 1163.0,199.6 1160.5,201.2 1157.9,202.9 1155.4,204.5 1152.9,206.2 1150.3,207.8 1147.8,209.4 1145.2,211.1 1142.7,212.7 1140.2,214.3 1137.6,215.9 1135.1,217.5 1132.5,219.1 1130.0,220.7 1127.5,222.3 1124.9,223.9 1122.4,225.4 1119.8,227.0 1117.3,228.6 1114.8,230.1 1112.2,231.7 1109.7,233.2 1107.1,234.7 1104.6,236.3 1102.1,237.8 1099.5,239.3 1097.0,240.8 1094.4,242.3 1091.9,243.8 1089.3,245.3 1086.8,246.8 1084.3,248.2 1081.7,249.7 1079.2,251.2 1076.6,252.6 1074.1,254.1 1071.6,255.5 1069.0,256.9 1066.5,258.4 1063.9,259.8 1061.4,261.2 1058.9,262.6 1056.3,264.0 1053.8,265.4 1051.2,266.7 1048.7,268.1 1046.2,269.5 1043.6,270.8 1041.1,272.2 1038.5,273.5 1036.0,274.8 1033.5,276.1 1030.9,277.5 1028.4,278.8 1025.8,280.0 1023.3,281.3 1020.8,282.6 1018.2,283.9 1015.7,285.1 1013.1,286.4 1010.6,287.6 1008.1,288.9 1005.5,290.1 1003.0,291.3 1000.4,292.5 997.9,293.7 995.4,294.9 992.8,296.1 990.3,297.2 987.7,298.4 985.2,299.5 982.7,300.7 980.1,301.8 977.6,302.9 975.0,304.0 972.5,305.1 970.0,306.2 967.4,307.3 964.9,308.4 962.3,309.4 959.8,310.5 957.3,311.5 954.7,312.5 952.2,313.5 949.6,314.6 947.1,315.6 944.6,316.5 942.0,317.5 939.5,318.5 936.9,319.4 934.4,320.4 931.9,321.3 929.3,322.2 926.8,323.1 924.2,324.0 921.7,324.9 919.2,325.8 916.6,326.7 914.1,327.5 911.5,328.4 909.0,329.2 906.4,330.0 903.9,330.8 901.4,331.6 898.8,332.4 896.3,333.2 893.7,333.9 891.2,334.7 888.7,335.4 886.1,336.1 883.6,336.9 881.0,337.6 878.5,338.2 876.0,338.9 873.4,339.6 870.9,340.2 868.3,340.9 865.8,341.5 863.3,342.1 860.7,342.7 858.2,343.3 855.6,343.9 853.1,344.4 850.6,345.0 848.0,345.5 845.5,346.0 842.9,346.5 840.4,347.0 837.9,347.5 835.3,348.0 832.8,348.4 830.2,348.9 827.7,349.3 825.2,349.7 822.6,350.1 820.1,350.5 817.5,350.9 815.0,351.2" fill="url(#gm)"/>
<polygon points="830.0,414.5 832.4,413.9 834.9,413.3 837.3,412.7 839.8,412.1 842.2,411.4 844.6,410.7 847.1,409.9 849.5,409.2 852.0,408.5 854.4,407.7 856.8,407.0 859.3,406.2 861.7,405.5 864.2,404.6 866.6,403.8 869.0,402.9 871.5,402.1 873.9,401.2 876.4,400.3 878.8,399.4 881.2,398.5 883.7,397.6 886.1,396.7 888.6,395.7 891.0,394.7 893.4,393.8 895.9,392.8 898.3,391.8 900.7,390.7 903.2,389.7 905.6,388.6 908.1,387.5 910.5,386.4 912.9,385.3 915.4,384.2 917.8,383.1 920.3,382.0 922.7,380.9 925.1,379.8 927.6,378.7 930.0,377.6 932.5,376.5 934.9,375.4 937.3,374.3 939.8,373.2 942.2,372.1 944.7,371.0 947.1,369.9 949.5,368.8 952.0,367.7 954.4,366.6 956.9,365.5 959.3,364.4 961.7,363.3 964.2,362.2 966.6,361.1 969.1,360.0 971.5,358.9 973.9,357.8 976.4,356.7 978.8,355.5 981.3,354.3 983.7,352.8 986.1,351.3 988.6,349.7 991.0,348.2 993.5,346.7 995.9,345.4 998.3,344.1 1000.8,342.8 1003.2,341.5 1005.7,340.3 1008.1,339.2 1010.5,338.1 1013.0,337.0 1015.4,335.8 1017.8,334.4 1020.3,332.9 1022.7,331.4 1025.2,329.9 1027.6,328.4 1030.0,326.9 1032.5,325.4 1034.9,323.9 1037.4,322.5 1039.8,321.0 1042.2,319.8 1044.7,318.6 1047.1,317.3 1049.6,316.1 1052.0,314.9 1054.4,313.8 1056.9,312.6 1059.3,311.5 1061.8,310.4 1064.2,308.9 1066.6,306.9 1069.1,304.8 1071.5,302.8 1074.0,300.8 1076.4,299.4 1078.8,298.5 1081.3,297.6 1083.7,296.7 1086.2,295.8 1088.6,295.3 1091.0,294.8 1093.5,294.3 1095.9,294.3 1098.4,294.8 1100.8,295.3 1103.2,295.7 1105.7,296.2 1108.1,296.8 1110.6,297.6 1113.0,298.3 1115.4,299.1 1117.9,299.9 1120.3,300.3 1122.8,300.5 1125.2,300.7 1127.6,300.9 1130.1,301.1 1132.5,302.4 1134.9,304.1 1137.4,305.7 1139.8,307.4 1142.3,309.0 1144.7,308.5 1147.1,307.7 1149.6,307.0 1152.0,306.3 1154.5,305.5 1156.9,306.7 1159.3,307.9 1161.8,309.1 1164.2,310.3 1166.7,311.5 1169.1,311.5 1171.5,311.5 1174.0,311.5 1176.4,311.5 1178.9,311.6 1181.3,313.4 1183.7,315.1 1186.2,316.9 1188.6,318.7 1191.1,320.3 1193.5,320.5 1193.5,271.0 1191.1,272.5 1188.6,273.9 1186.2,275.4 1183.7,276.8 1181.3,278.3 1178.9,279.7 1176.4,281.2 1174.0,282.6 1171.5,284.0 1169.1,285.4 1166.7,286.9 1164.2,288.3 1161.8,289.7 1159.3,291.1 1156.9,292.5 1154.5,293.9 1152.0,295.2 1149.6,296.6 1147.1,298.0 1144.7,299.4 1142.3,300.7 1139.8,302.1 1137.4,303.4 1134.9,304.8 1132.5,306.1 1130.1,307.4 1127.6,308.8 1125.2,310.1 1122.8,311.4 1120.3,312.7 1117.9,314.0 1115.4,315.3 1113.0,316.6 1110.6,317.9 1108.1,319.2 1105.7,320.5 1103.2,321.7 1100.8,323.0 1098.4,324.3 1095.9,325.5 1093.5,326.8 1091.0,328.0 1088.6,329.2 1086.2,330.5 1083.7,331.7 1081.3,332.9 1078.8,334.1 1076.4,335.3 1074.0,336.5 1071.5,337.7 1069.1,338.9 1066.6,340.1 1064.2,341.3 1061.8,342.4 1059.3,343.6 1056.9,344.7 1054.4,345.9 1052.0,347.0 1049.6,348.2 1047.1,349.3 1044.7,350.4 1042.2,351.5 1039.8,352.6 1037.4,353.7 1034.9,354.8 1032.5,355.9 1030.0,357.0 1027.6,358.1 1025.2,359.1 1022.7,360.2 1020.3,361.3 1017.8,362.3 1015.4,363.3 1013.0,364.4 1010.5,365.4 1008.1,366.4 1005.7,367.4 1003.2,368.5 1000.8,369.5 998.3,370.4 995.9,371.4 993.5,372.4 991.0,373.4 988.6,374.3 986.1,375.3 983.7,376.3 981.3,377.2 978.8,378.1 976.4,379.1 973.9,380.0 971.5,380.9 969.1,381.8 966.6,382.7 964.2,383.6 961.7,384.5 959.3,385.3 956.9,386.2 954.4,387.1 952.0,387.9 949.5,388.8 947.1,389.6 944.7,390.4 942.2,391.3 939.8,392.1 937.3,392.9 934.9,393.7 932.5,394.5 930.0,395.3 927.6,396.0 925.1,396.8 922.7,397.6 920.3,398.3 917.8,399.1 915.4,399.8 912.9,400.5 910.5,401.3 908.1,402.0 905.6,402.7 903.2,403.4 900.7,404.1 898.3,404.8 895.9,405.4 893.4,406.1 891.0,406.7 888.6,407.4 886.1,408.0 883.7,408.7 881.2,409.3 878.8,409.9 876.4,410.5 873.9,411.1 871.5,411.7 869.0,412.3 866.6,412.9 864.2,413.4 861.7,414.0 859.3,414.5 856.8,415.1 854.4,415.6 852.0,416.1 849.5,416.6 847.1,417.1 844.6,417.6 842.2,418.1 839.8,418.6 837.3,419.1 834.9,419.5 832.4,420.0 830.0,420.4" fill="url(#gg)"/>
<polygon points="820.0,485.1 822.5,484.5 825.0,483.8 827.5,483.2 830.0,482.5 832.5,481.9 835.0,481.2 837.5,480.6 840.1,479.9 842.6,479.3 845.1,478.7 847.6,478.1 850.1,477.4 852.6,476.8 855.1,476.1 857.6,475.4 860.1,474.7 862.6,474.0 865.1,473.3 867.6,472.5 870.1,471.8 872.6,471.1 875.1,470.3 877.7,469.5 880.2,468.7 882.7,467.9 885.2,467.1 887.7,466.4 890.2,465.6 892.7,464.8 895.2,464.0 897.7,463.2 900.2,462.4 902.7,461.6 905.2,460.8 907.7,460.0 910.2,459.2 912.7,458.2 915.3,457.3 917.8,456.4 920.3,455.4 922.8,454.5 925.3,453.5 927.8,452.5 930.3,451.5 932.8,450.5 935.3,449.5 937.8,448.4 940.3,447.3 942.8,446.3 945.3,445.2 947.8,444.1 950.3,443.0 952.9,441.9 955.4,440.8 957.9,439.7 960.4,438.6 962.9,437.4 965.4,436.3 967.9,435.1 970.4,433.9 972.9,432.6 975.4,431.3 977.9,429.9 980.4,428.6 982.9,427.3 985.4,425.9 987.9,424.6 990.5,423.2 993.0,421.9 995.5,420.6 998.0,419.3 1000.5,418.1 1003.0,416.8 1005.5,415.6 1008.0,414.5 1010.5,413.4 1013.0,412.3 1015.5,411.2 1018.0,410.0 1020.5,408.7 1023.0,407.4 1025.6,406.1 1028.1,404.8 1030.6,403.3 1033.1,401.7 1035.6,400.2 1038.1,398.6 1040.6,397.3 1043.1,396.2 1045.6,395.1 1048.1,394.0 1050.6,392.9 1053.1,391.8 1055.6,390.8 1058.1,389.7 1060.6,388.6 1063.2,387.6 1065.7,386.5 1068.2,385.5 1070.7,384.5 1073.2,383.4 1075.7,382.4 1078.2,381.4 1080.7,380.3 1083.2,379.3 1085.7,378.3 1088.2,377.6 1090.7,377.1 1093.2,376.7 1095.7,376.1 1098.2,375.3 1100.8,374.5 1103.3,373.7 1105.8,372.9 1108.3,372.4 1110.8,372.1 1113.3,371.8 1115.8,371.5 1118.3,371.2 1120.8,372.4 1123.3,374.2 1125.8,375.9 1128.3,377.7 1130.8,379.2 1133.3,378.1 1135.8,377.0 1138.4,375.9 1140.9,374.9 1143.4,374.8 1145.9,376.5 1148.4,378.2 1150.9,379.9 1153.4,381.6 1155.9,382.0 1158.4,381.2 1160.9,380.4 1163.4,379.6 1165.9,378.8 1168.4,380.6 1170.9,383.2 1173.4,385.9 1176.0,388.5 1178.5,391.1 1181.0,392.2 1183.5,393.0 1186.0,393.9 1188.5,394.7 1191.0,395.5 1193.5,395.7 1193.5,355.8 1191.0,357.1 1188.5,358.4 1186.0,359.7 1183.5,361.0 1181.0,362.3 1178.5,363.6 1176.0,364.9 1173.4,366.2 1170.9,367.5 1168.4,368.8 1165.9,370.1 1163.4,371.3 1160.9,372.6 1158.4,373.9 1155.9,375.1 1153.4,376.4 1150.9,377.6 1148.4,378.9 1145.9,380.1 1143.4,381.3 1140.9,382.6 1138.4,383.8 1135.8,385.0 1133.3,386.2 1130.8,387.4 1128.3,388.6 1125.8,389.8 1123.3,391.0 1120.8,392.2 1118.3,393.4 1115.8,394.6 1113.3,395.7 1110.8,396.9 1108.3,398.1 1105.8,399.2 1103.3,400.4 1100.8,401.5 1098.2,402.6 1095.7,403.8 1093.2,404.9 1090.7,406.0 1088.2,407.1 1085.7,408.2 1083.2,409.3 1080.7,410.4 1078.2,411.5 1075.7,412.6 1073.2,413.7 1070.7,414.8 1068.2,415.8 1065.7,416.9 1063.2,418.0 1060.6,419.0 1058.1,420.0 1055.6,421.1 1053.1,422.1 1050.6,423.1 1048.1,424.2 1045.6,425.2 1043.1,426.2 1040.6,427.2 1038.1,428.2 1035.6,429.2 1033.1,430.1 1030.6,431.1 1028.1,432.1 1025.6,433.1 1023.0,434.0 1020.5,435.0 1018.0,435.9 1015.5,436.8 1013.0,437.8 1010.5,438.7 1008.0,439.6 1005.5,440.5 1003.0,441.4 1000.5,442.3 998.0,443.2 995.5,444.1 993.0,445.0 990.5,445.8 987.9,446.7 985.4,447.5 982.9,448.4 980.4,449.2 977.9,450.1 975.4,450.9 972.9,451.7 970.4,452.5 967.9,453.3 965.4,454.1 962.9,454.9 960.4,455.7 957.9,456.5 955.4,457.2 952.9,458.0 950.3,458.8 947.8,459.5 945.3,460.2 942.8,461.0 940.3,461.7 937.8,462.4 935.3,463.1 932.8,463.8 930.3,464.5 927.8,465.2 925.3,465.9 922.8,466.6 920.3,467.2 917.8,467.9 915.3,468.5 912.7,469.2 910.2,469.8 907.7,470.4 905.2,471.0 902.7,471.6 900.2,472.2 897.7,472.8 895.2,473.4 892.7,474.0 890.2,474.6 887.7,475.1 885.2,475.7 882.7,476.2 880.2,476.7 877.7,477.3 875.1,477.8 872.6,478.3 870.1,478.8 867.6,479.3 865.1,479.8 862.6,480.2 860.1,480.7 857.6,481.2 855.1,481.6 852.6,482.1 850.1,482.5 847.6,482.9 845.1,483.3 842.6,483.7 840.1,484.1 837.5,484.5 835.0,484.9 832.5,485.3 830.0,485.6 827.5,486.0 825.0,486.3 822.5,486.7 820.0,487.0" fill="url(#gb)"/>
</g>
<g stroke="#000" stroke-width="2.2" fill="none">
<rect x="109.3" y="1.0" width="1083.2" height="504.0"/>
<line x1="650.7" y1="1.0" x2="650.7" y2="505.0"/>
<line x1="109.3" y1="505.0" x2="109.3" y2="514.5"/>
<line x1="199.9" y1="505.0" x2="199.9" y2="514.5"/>
<line x1="290.6" y1="505.0" x2="290.6" y2="514.5"/>
<line x1="381.3" y1="505.0" x2="381.3" y2="514.5"/>
<line x1="471.9" y1="505.0" x2="471.9" y2="514.5"/>
<line x1="562.5" y1="505.0" x2="562.5" y2="514.5"/>
<line x1="109.3" y1="490.0" x2="99.8" y2="490.0"/>
<line x1="109.3" y1="428.5" x2="99.8" y2="428.5"/>
<line x1="109.3" y1="367.0" x2="99.8" y2="367.0"/>
<line x1="109.3" y1="305.5" x2="99.8" y2="305.5"/>
<line x1="109.3" y1="244.0" x2="99.8" y2="244.0"/>
<line x1="109.3" y1="182.6" x2="99.8" y2="182.6"/>
<line x1="109.3" y1="121.1" x2="99.8" y2="121.1"/>
<line x1="109.3" y1="59.6" x2="99.8" y2="59.6"/>
<line x1="650.7" y1="505.0" x2="650.7" y2="514.5"/>
<line x1="768.6" y1="505.0" x2="768.6" y2="514.5"/>
<line x1="886.4" y1="505.0" x2="886.4" y2="514.5"/>
<line x1="1004.2" y1="505.0" x2="1004.2" y2="514.5"/>
<line x1="1122.1" y1="505.0" x2="1122.1" y2="514.5"/>
<line x1="1192.5" y1="505.0" x2="1202.0" y2="505.0"/>
<line x1="650.7" y1="505.0" x2="641.2" y2="505.0"/>
<line x1="1192.5" y1="438.7" x2="1202.0" y2="438.7"/>
<line x1="650.7" y1="438.7" x2="641.2" y2="438.7"/>
<line x1="1192.5" y1="372.4" x2="1202.0" y2="372.4"/>
<line x1="650.7" y1="372.4" x2="641.2" y2="372.4"/>
<line x1="1192.5" y1="306.1" x2="1202.0" y2="306.1"/>
<line x1="650.7" y1="306.1" x2="641.2" y2="306.1"/>
<line x1="1192.5" y1="239.8" x2="1202.0" y2="239.8"/>
<line x1="650.7" y1="239.8" x2="641.2" y2="239.8"/>
<line x1="1192.5" y1="173.5" x2="1202.0" y2="173.5"/>
<line x1="650.7" y1="173.5" x2="641.2" y2="173.5"/>
<line x1="1192.5" y1="107.2" x2="1202.0" y2="107.2"/>
<line x1="650.7" y1="107.2" x2="641.2" y2="107.2"/>
</g>
<g fill="#000">
<text x="47.69 64.10 72.29" y="498.66" font-size="29.5">0.2</text>
<text x="47.69 64.10 72.29" y="437.18" font-size="29.5">0.4</text>
<text x="47.69 64.10 72.29" y="375.70" font-size="29.5">0.6</text>
<text x="47.69 64.10 72.29" y="314.22" font-size="29.5">0.8</text>
<text x="64.10 72.29" y="252.74" font-size="29.5">.0</text><path d="M55.21,252.74L57.87,252.74L57.87,232.39L55.95,232.39C55.42,234.16 53.59,235.48 49.99,235.69L49.99,237.64L55.21,237.64Z" fill="#000"/>
<text x="64.10 72.29" y="191.26" font-size="29.5">.2</text><path d="M55.21,191.26L57.87,191.26L57.87,170.91L55.95,170.91C55.42,172.68 53.59,174.00 49.99,174.21L49.99,176.16L55.21,176.16Z" fill="#000"/>
<text x="64.10 72.29" y="129.78" font-size="29.5">.4</text><path d="M55.21,129.78L57.87,129.78L57.87,109.43L55.95,109.43C55.42,111.20 53.59,112.52 49.99,112.73L49.99,114.68L55.21,114.68Z" fill="#000"/>
<text x="64.10 72.29" y="68.30" font-size="29.5">.6</text><path d="M55.21,68.30L57.87,68.30L57.87,47.95L55.95,47.95C55.42,49.71 53.59,51.04 49.99,51.25L49.99,53.20L55.21,53.20Z" fill="#000"/>
<text x="88.80 105.20 113.40" y="546.30" font-size="29.5">0.0</text>
<text x="179.45 195.85 204.05" y="546.30" font-size="29.5">0.5</text>
<text x="286.50 294.70" y="546.30" font-size="29.5">.0</text><path d="M277.62,546.30L280.27,546.30L280.27,525.94L278.36,525.94C277.82,527.71 276.00,529.04 272.40,529.25L272.40,531.20L277.62,531.20Z" fill="#000"/>
<text x="377.15 385.35" y="546.30" font-size="29.5">.5</text><path d="M368.27,546.30L370.92,546.30L370.92,525.94L369.01,525.94C368.47,527.71 366.65,529.04 363.05,529.25L363.05,531.20L368.27,531.20Z" fill="#000"/>
<text x="451.40 467.80 476.00" y="546.30" font-size="29.5">2.0</text>
<text x="542.05 558.45 566.65" y="546.30" font-size="29.5">2.5</text>
<text x="630.20 646.60 654.80" y="546.30" font-size="29.5">0.0</text>
<text x="748.05 764.45 772.65" y="546.30" font-size="29.5">0.5</text>
<text x="882.30 890.50" y="546.30" font-size="29.5">.0</text><path d="M873.42,546.30L876.07,546.30L876.07,525.94L874.16,525.94C873.62,527.71 871.80,529.04 868.20,529.25L868.20,531.20L873.42,531.20Z" fill="#000"/>
<text x="1000.15 1008.35" y="546.30" font-size="29.5">.5</text><path d="M991.27,546.30L993.92,546.30L993.92,525.94L992.01,525.94C991.47,527.71 989.65,529.04 986.05,529.25L986.05,531.20L991.27,531.20Z" fill="#000"/>
<text x="1101.60 1118.00 1126.20" y="546.30" font-size="29.5">2.0</text>
<text x="1214.50 1230.91 1239.10 1255.51" y="513.40" font-size="29.5">0.00</text>
<text x="1214.50 1230.91 1239.10 1255.51" y="447.10" font-size="29.5">0.25</text>
<text x="1214.50 1230.91 1239.10 1255.51" y="380.80" font-size="29.5">0.50</text>
<text x="1214.50 1230.91 1239.10 1255.51" y="314.50" font-size="29.5">0.75</text>
<text x="1230.91 1239.10 1255.51" y="248.20" font-size="29.5">.00</text><path d="M1222.02,248.20L1224.68,248.20L1224.68,227.85L1222.76,227.85C1222.23,229.62 1220.40,230.94 1216.80,231.15L1216.80,233.10L1222.02,233.10Z" fill="#000"/>
<text x="1230.91 1239.10 1255.51" y="181.90" font-size="29.5">.25</text><path d="M1222.02,181.90L1224.68,181.90L1224.68,161.55L1222.76,161.55C1222.23,163.31 1220.40,164.64 1216.80,164.85L1216.80,166.80L1222.02,166.80Z" fill="#000"/>
<text x="1230.91 1239.10 1255.51" y="115.60" font-size="29.5">.50</text><path d="M1222.02,115.60L1224.68,115.60L1224.68,95.25L1222.76,95.25C1222.23,97.02 1220.40,98.34 1216.80,98.55L1216.80,100.50L1222.02,100.50Z" fill="#000"/>
</g>
<text x="380" y="590" font-size="29.5" text-anchor="middle"><tspan font-style="italic">q</tspan>/<tspan font-style="italic">k</tspan><tspan font-size="20.6" dy="8.2">F</tspan></text>
<text x="921.6" y="590" font-size="29.5" text-anchor="middle"><tspan font-style="italic">q</tspan>/<tspan font-style="italic">k</tspan><tspan font-size="20.6" dy="8.2">F</tspan></text>
<text transform="translate(22,352.5) rotate(-90)" font-size="29.5"><tspan font-style="italic" font-family="Liberation Serif">χ</tspan><tspan font-size="20.6" dy="8">s</tspan><tspan dy="-8"> (</tspan><tspan font-style="italic">q</tspan>, <tspan font-style="italic" font-family="Liberation Serif">ω</tspan> = 0)/<tspan font-style="italic">N</tspan><tspan font-size="20.6" dy="8">F</tspan></text>
<text transform="translate(1313.5,252.5) rotate(-90)" font-size="29.5" text-anchor="middle"><tspan font-style="italic">G</tspan>(<tspan font-style="italic">q</tspan>)</text>
<text x="120" y="45" font-size="42" font-weight="bold">a</text>
<text x="660" y="45" font-size="42" font-weight="bold">b</text>
<line x1="363" y1="39.8" x2="446.5" y2="39.8" stroke="#000000" stroke-width="5.0"/>
<text x="460.1" y="45.8" font-size="25"><tspan font-style="italic">r</tspan><tspan font-size="17.5" dy="8.8">s</tspan></text>
<text x="482.33" y="45.80" font-size="25">=</text><path d="M510.25,45.80L512.50,45.80L512.50,28.55L510.87,28.55C510.42,30.05 508.87,31.17 505.82,31.35L505.82,33.00L510.25,33.00Z" fill="#000"/>
<line x1="363" y1="81.3" x2="446.5" y2="81.3" stroke="#808080" stroke-width="5.0" stroke-dasharray="14.9,6.6" stroke-dashoffset="-2.8"/>
<text x="460.1" y="87.3" font-size="25"><tspan font-style="italic">r</tspan><tspan font-size="17.5" dy="8.8">s</tspan></text>
<text x="482.33 524.72 541.40" y="87.30" font-size="25">=VC</text><path d="M510.25,87.30L512.50,87.30L512.50,70.05L510.87,70.05C510.42,71.55 508.87,72.67 505.82,72.85L505.82,74.50L510.25,74.50Z" fill="#000"/>
<line x1="363" y1="122.1" x2="446.5" y2="122.1" stroke="#bf00bf" stroke-width="5.0"/>
<text x="460.1" y="128.1" font-size="25"><tspan font-style="italic">r</tspan><tspan font-size="17.5" dy="8.8">s</tspan></text>
<text x="482.33 503.87" y="128.10" font-size="25">=2</text>
<line x1="363" y1="163.7" x2="446.5" y2="163.7" stroke="#ff0000" stroke-width="5.0" stroke-dasharray="14.9,6.6" stroke-dashoffset="-2.8"/>
<text x="460.1" y="169.7" font-size="25"><tspan font-style="italic">r</tspan><tspan font-size="17.5" dy="8.8">s</tspan></text>
<text x="482.33 503.87 524.72 541.40" y="169.70" font-size="25">=2VC</text>
<line x1="707" y1="39.8" x2="790.2" y2="39.8" stroke="#008000" stroke-width="5.0"/>
<text x="804.0999999999999" y="45.8" font-size="25"><tspan font-style="italic">r</tspan><tspan font-size="17.5" dy="8.8">s</tspan></text>
<text x="826.33 847.87" y="45.80" font-size="25">=3</text>
<line x1="707" y1="81.3" x2="790.2" y2="81.3" stroke="#bfbf00" stroke-width="5.0" stroke-dasharray="14.9,6.6" stroke-dashoffset="-2.8"/>
<text x="804.0999999999999" y="87.3" font-size="25"><tspan font-style="italic">r</tspan><tspan font-size="17.5" dy="8.8">s</tspan></text>
<text x="826.33 847.87 868.72 885.40" y="87.30" font-size="25">=3VC</text>
<line x1="707" y1="122.1" x2="790.2" y2="122.1" stroke="#0000ff" stroke-width="5.0"/>
<text x="804.0999999999999" y="128.1" font-size="25"><tspan font-style="italic">r</tspan><tspan font-size="17.5" dy="8.8">s</tspan></text>
<text x="826.33 847.87" y="128.10" font-size="25">=4</text>
<line x1="707" y1="163.7" x2="790.2" y2="163.7" stroke="#00bfbf" stroke-width="5.0" stroke-dasharray="14.9,6.6" stroke-dashoffset="-2.8"/>
<text x="804.0999999999999" y="169.7" font-size="25"><tspan font-style="italic">r</tspan><tspan font-size="17.5" dy="8.8">s</tspan></text>
<text x="826.33 847.87 868.72 885.40" y="169.70" font-size="25">=4VC</text>
</svg>
</body></html>
